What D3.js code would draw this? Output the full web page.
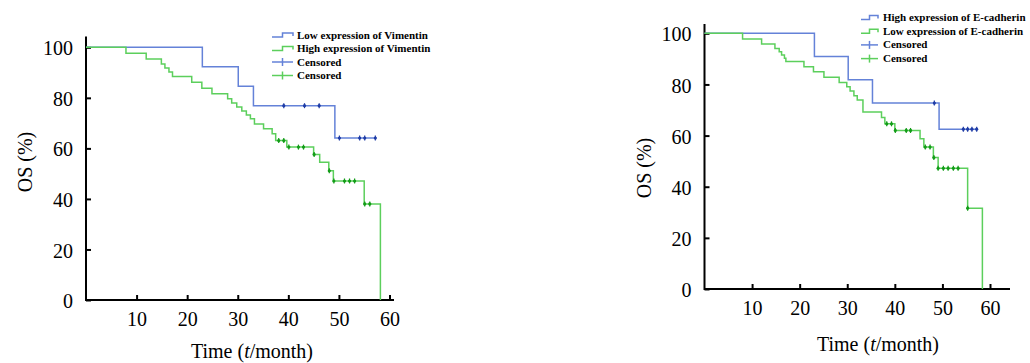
<!DOCTYPE html>
<html>
<head>
<meta charset="utf-8">
<script src="https://cdn.jsdelivr.net/npm/d3@7"></script>
<style>
  body { margin: 0; background: #fff; }
  svg { display: block; }
  .tick text { font-family: "Liberation Serif", "Times New Roman", serif; font-size: 20px; fill: #000; }
  .axis-title { font-family: "Liberation Serif", "Times New Roman", serif; font-size: 20px; fill: #000; }
  .legend text { font-family: "Liberation Serif", "Times New Roman", serif; font-size: 11px; font-weight: bold; fill: #000; }
</style>
</head>
<body>
<svg id="chart" width="1030" height="363"></svg>
<script>
// ---- data ----
const xTicks = [10, 20, 30, 40, 50, 60];
const yTicks = [0, 20, 40, 60, 80, 100];

// left panel: Vimentin
const vimLowTimes = [0, 23.0, 30.1, 33.1, 49.2, 57.2];
const vimLowSurv = [100, 92.3, 84.6, 76.9, 64.1, 64.1];
const vimLowCens = [39.1, 43.2, 46.1, 50.1, 54.1, 55.1, 57.2];

const vimHighTimes = [0, 7.9, 11.9, 14.9, 15.6, 16.4, 17.1, 20.9, 22.9, 24.9, 28.0, 28.8, 29.8, 30.8, 31.7, 32.5, 33.3, 35.1, 36.8, 37.5, 39.7, 45.0, 46.2, 48.0, 48.9, 55.0, 58.2];
const vimHighSurv = [100, 97.6, 95.4, 93.4, 91.8, 90.2, 88.4, 86.2, 83.8, 81.6, 79.6, 78.0, 76.4, 74.8, 73.2, 71.7, 69.6, 67.8, 65.8, 63.1, 60.5, 57.6, 54.5, 51.1, 47.1, 38.0, 0];
const vimHighCens = [38.1, 39.1, 40.1, 42.0, 43.0, 45.1, 48.1, 49.0, 51.1, 52.1, 53.1, 55.1, 56.1];

// right panel: E-cadherin
const ecHighTimes = [0, 23.1, 30.2, 35.3, 49.3, 57.2];
const ecHighSurv = [100, 90.9, 81.8, 72.7, 62.5, 62.5];
const ecHighCens = [48.3, 54.4, 55.3, 56.2, 57.2];

const ecLowTimes = [0, 8.0, 12.0, 14.8, 15.7, 16.2, 16.8, 17.1, 20.9, 22.9, 25.1, 28.3, 29.9, 30.6, 31.4, 32.1, 33.3, 37.2, 37.9, 40.0, 45.3, 46.1, 48.1, 49.1, 55.3, 58.4];
const ecLowSurv = [100, 97.8, 95.8, 94.1, 92.8, 91.5, 90.2, 89.0, 86.9, 85.0, 82.8, 80.8, 79.1, 77.4, 75.6, 73.9, 69.2, 67.1, 64.6, 62.0, 58.8, 55.5, 51.4, 47.2, 31.6, 0];
const ecLowCens = [38.3, 39.3, 40.1, 42.4, 43.3, 46.4, 47.4, 48.2, 49.1, 50.2, 51.2, 52.3, 53.3, 55.3];

const vimLegend = ['Low expression of Vimentin', 'High expression of Vimentin', 'Censored', 'Censored'];
const ecLegend = ['High expression of E-cadherin', 'Low expression of E-cadherin', 'Censored', 'Censored'];

const blueLine = '#6482d8', greenLine = '#5ccf5c';
const blueMark = '#1f3ca6', greenMark = '#139c18';

const svg = d3.select('#chart');

function drawPanel(cfg) {
    const x = d3.scaleLinear().domain([0, 60]).range([cfg.x0, cfg.x60]);
    const y = d3.scaleLinear().domain([0, 100]).range([cfg.y0, cfg.y100]);
    const g = svg.append('g');

    // axes lines
    g.append('line').attr('x1', x(0)).attr('x2', cfg.xEnd).attr('y1', y(0)).attr('y2', y(0))
        .attr('stroke', '#000').attr('stroke-width', 2);
    g.append('line').attr('x1', x(0)).attr('x2', x(0)).attr('y1', y(0) + 1).attr('y2', cfg.yTop)
        .attr('stroke', '#000').attr('stroke-width', 2);

    const xAxis = d3.axisBottom(x).tickValues(xTicks).tickSize(-5).tickPadding(12);
    g.append('g').attr('transform', 'translate(0,' + y(0) + ')').call(xAxis)
        .call(a => a.select('.domain').remove())
        .call(a => a.selectAll('.tick line').attr('stroke-width', 2))
        .call(a => a.selectAll('.tick text').attr('dy', '0.71em'));

    const yAxis = d3.axisLeft(y).tickValues(yTicks).tickSize(-5).tickPadding(13);
    g.append('g').attr('transform', 'translate(' + x(0) + ',0)').call(yAxis)
        .call(a => a.select('.domain').remove())
        .call(a => a.selectAll('.tick line').attr('stroke-width', 2))
        .call(a => a.selectAll('.tick text').attr('dy', '0.38em'));

    // titles
    const xt = g.append('text').attr('class', 'axis-title')
        .attr('x', cfg.xTitleX).attr('y', cfg.xTitleY).attr('text-anchor', 'middle');
    xt.append('tspan').text('Time (');
    xt.append('tspan').attr('font-style', 'italic').text('t');
    xt.append('tspan').text('/month)');

    g.append('text').attr('class', 'axis-title')
        .attr('transform', 'translate(' + cfg.yTitleX + ',' + cfg.yTitleY + ') rotate(-90)')
        .attr('text-anchor', 'middle').text('OS (%)');

    const line = d3.line().x(d => x(d[0])).y(d => y(d[1])).curve(d3.curveStepAfter);

    cfg.series.forEach(s => {
        const pts = d3.zip(s.times, s.surv);
        g.append('path').attr('d', line(pts)).attr('fill', 'none')
            .attr('stroke', s.color).attr('stroke-width', 1.5);
        const marks = s.cens.map(t => {
            const i = d3.bisectRight(s.times, t) - 1;
            return [t, s.surv[Math.max(0, i)]];
        });
        const mg = g.append('g');
        mg.selectAll('line').data(marks).enter().append('line')
            .attr('x1', d => x(d[0])).attr('x2', d => x(d[0]))
            .attr('y1', d => y(d[1]) - 2.5).attr('y2', d => y(d[1]) + 2.5)
            .attr('stroke', s.mark).attr('stroke-width', 1.2);
        mg.selectAll('circle').data(marks).enter().append('circle')
            .attr('cx', d => x(d[0])).attr('cy', d => y(d[1])).attr('r', 1.6)
            .attr('fill', s.mark);
    });

    // legend
    const lg = g.append('g').attr('class', 'legend');
    cfg.legend.forEach((label, i) => {
        const by = cfg.legY + i * cfg.legStep;
        const cy = by - 3.5;
        const col = i % 2 === 0 ? blueLine : greenLine;
        if (i < 2) {
            const mid = (cfg.legX0 + cfg.legX1) / 2;
            lg.append('path')
                .attr('d', 'M' + cfg.legX0 + ',' + (cy + 2) + 'H' + mid + 'V' + (cy - 2) + 'H' + cfg.legX1 + 'V' + (cy + 1))
                .attr('fill', 'none').attr('stroke', col).attr('stroke-width', 1.5);
        } else {
            const mid = (cfg.legX0 + cfg.legX1) / 2;
            lg.append('line').attr('x1', cfg.legX0).attr('x2', cfg.legX1).attr('y1', cy).attr('y2', cy)
                .attr('stroke', col).attr('stroke-width', 1.5);
            lg.append('line').attr('x1', mid).attr('x2', mid).attr('y1', cy - 4).attr('y2', cy + 4)
                .attr('stroke', col).attr('stroke-width', 1.5);
        }
        lg.append('text').attr('x', cfg.legText).attr('y', by).text(label);
    });
}

drawPanel({
    x0: 86, x60: 389.5, y0: 300, y100: 47.3, xEnd: 394, yTop: 36.5,
    xTitleX: 252, xTitleY: 358, yTitleX: 31.5, yTitleY: 162,
    legX0: 272, legX1: 293, legText: 297, legY: 38.5, legStep: 13.5,
    legend: vimLegend,
    series: [
        { times: vimLowTimes, surv: vimLowSurv, cens: vimLowCens, color: blueLine, mark: blueMark },
        { times: vimHighTimes, surv: vimHighSurv, cens: vimHighCens, color: greenLine, mark: greenMark }
    ]
});

drawPanel({
    x0: 704.5, x60: 990, y0: 289, y100: 33.3, xEnd: 1010, yTop: 24,
    xTitleX: 878, xTitleY: 351, yTitleX: 651, yTitleY: 168,
    legX0: 861, legX1: 878, legText: 883, legY: 21, legStep: 13.7,
    legend: ecLegend,
    series: [
        { times: ecHighTimes, surv: ecHighSurv, cens: ecHighCens, color: blueLine, mark: blueMark },
        { times: ecLowTimes, surv: ecLowSurv, cens: ecLowCens, color: greenLine, mark: greenMark }
    ]
});
</script>
</body>
</html>
